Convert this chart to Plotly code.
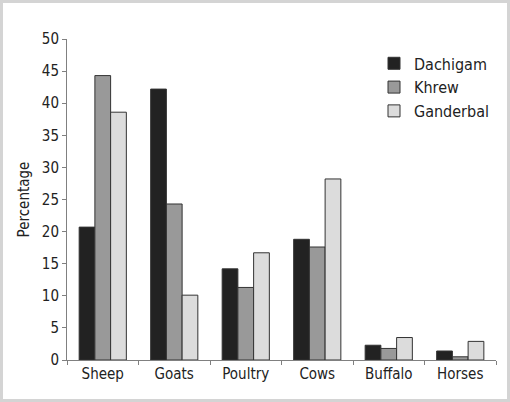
import plotly.graph_objects as go

categories = ["Sheep", "Goats", "Poultry", "Cows", "Buffalo", "Horses"]
dachigam = [20.7, 42.2, 14.2, 18.8, 2.3, 1.4]
khrew = [44.3, 24.3, 11.3, 17.6, 1.8, 0.5]
ganderbal = [38.6, 10.1, 16.7, 28.2, 3.5, 2.9]
series_names = ["Dachigam", "Khrew", "Ganderbal"]
series_colors = ["#222222", "#999999", "#dcdcdc"]

W, H = 510, 402
ml, mr, mt, mb = 67, 14, 39, 42
pw, ph = W - ml - mr, H - mt - mb

FONT = "DejaVu Sans Condensed"

fig = go.Figure()
for name, vals, col in zip(series_names, [dachigam, khrew, ganderbal], series_colors):
    fig.add_trace(go.Bar(
        x=categories, y=vals, name=name,
        marker=dict(color=col, line=dict(color="#333333", width=1)),
    ))

fig.update_layout(
    width=W, height=H,
    margin=dict(l=ml, r=mr, t=mt, b=mb),
    paper_bgcolor="white", plot_bgcolor="white",
    barmode="group", bargap=0.34, bargroupgap=0,
    font=dict(family=FONT, size=15, color="#222222"),
    showlegend=True,
    legend=dict(x=(374 - ml) / pw, y=0.977, xanchor="left", yanchor="top",
                bgcolor="rgba(0,0,0,0)", font=dict(size=16),
                itemwidth=30),
    xaxis=dict(showline=True, linecolor="#808080", linewidth=1,
               ticks="outside", tickson="boundaries", ticklen=4,
               tickcolor="#808080", showgrid=False),
    yaxis=dict(range=[0, 50], dtick=5, showline=True, linecolor="#808080",
               linewidth=1, ticks="outside", ticklen=4, tickcolor="#808080",
               showgrid=False, zeroline=False,
               title=dict(text="Percentage", font=dict(size=15), standoff=8)),
    shapes=[dict(type="rect", xref="paper", yref="paper",
                 x0=(1.5 - ml) / pw, x1=(W - 1.5 - ml) / pw,
                 y0=-(mb - 1.5) / ph,
                 y1=(H - mb - 1.5) / ph,
                 line=dict(color="#d4d4d4", width=3), layer="below")],
)

fig.write_html("out.html", config={"displayModeBar": False},
               post_script="document.body.style.margin='0';")
